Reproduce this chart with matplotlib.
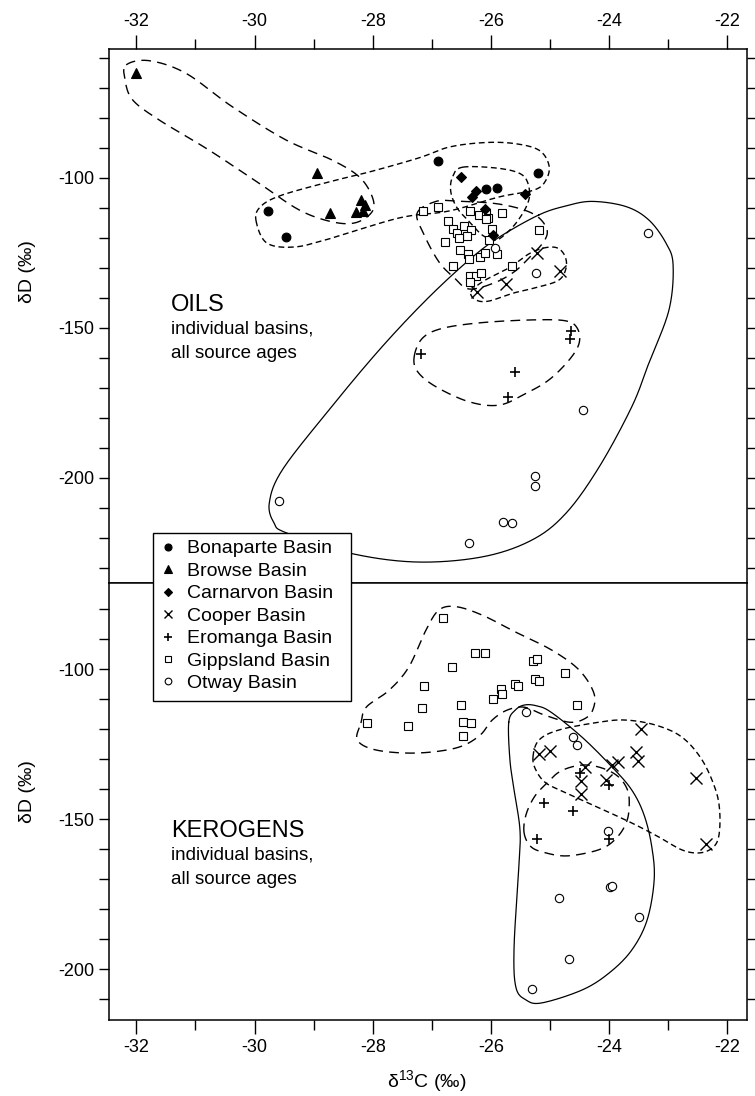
import numpy as np
import matplotlib
matplotlib.use("Agg")
import matplotlib.pyplot as plt
from matplotlib.ticker import MultipleLocator, FixedLocator
from matplotlib.lines import Line2D
from matplotlib.patches import Rectangle

plt.rcParams['font.family'] = ['Liberation Sans', 'DejaVu Sans']
plt.rcParams['mathtext.fontset'] = 'custom'
plt.rcParams['mathtext.rm'] = 'Liberation Sans'

# ---------------- OILS: d13C (permil), dD (permil) ----------------
oil_bonaparte_c = [-29.77, -29.47, -26.90, -26.08, -25.90, -25.21]
oil_bonaparte_d = [-111.2, -119.9, -94.3, -103.8, -103.6, -98.5]

oil_browse_c = [-32.00, -28.95, -28.72, -28.20, -28.13, -28.28, -28.16]
oil_browse_d = [-65.2, -98.5, -111.7, -107.4, -109.1, -111.3, -111.0]

oil_carnarvon_c = [-26.51, -26.26, -26.32, -25.42, -26.11, -25.96]
oil_carnarvon_d = [-99.7, -104.5, -106.3, -105.3, -110.3, -119.1]

oil_cooper_c = [-25.23, -24.83, -25.75, -26.24]
oil_cooper_d = [-125.2, -131.1, -135.4, -138.1]

oil_eromanga_c = [-24.64, -24.67, -27.18, -25.60, -25.71]
oil_eromanga_d = [-151.0, -153.9, -158.8, -164.8, -173.0]

oil_gippsland_c = [-27.15, -26.90, -26.35, -26.20, -26.08, -26.05, -26.08, -25.82,
                   -26.73, -26.64, -26.57, -26.45, -26.33, -26.41, -26.54, -26.78,
                   -25.98, -26.04, -26.53, -26.39, -26.37, -26.19, -26.10, -25.90,
                   -26.64, -26.35, -26.25, -26.17, -26.35, -25.64, -25.18]
oil_gippsland_d = [-111.1, -109.7, -111.1, -112.5, -111.9, -113.3, -113.8, -111.9,
                   -114.4, -117.2, -118.3, -116.1, -117.4, -119.4, -120.2, -121.4,
                   -117.0, -120.9, -124.1, -125.5, -127.2, -126.4, -125.2, -125.4,
                   -129.3, -132.8, -132.8, -131.9, -134.7, -129.4, -117.4]

oil_otway_c = [-25.93, -25.24, -23.35, -24.44, -25.26, -25.26, -25.80, -25.64, -26.37, -29.58]
oil_otway_d = [-123.3, -131.9, -118.5, -177.4, -199.3, -202.7, -214.7, -215.2, -221.9, -207.7]

# ---------------- KEROGENS ----------------
ker_cooper_c = [-23.47, -25.19, -25.01, -23.54, -23.51, -23.86, -23.95, -24.41,
                -24.05, -24.47, -24.47, -22.53, -22.37]
ker_cooper_d = [-120.0, -128.2, -127.1, -127.7, -130.6, -130.8, -131.9, -132.7,
                -136.9, -137.2, -141.6, -136.1, -158.2]

ker_eromanga_c = [-24.50, -24.00, -25.10, -24.61, -25.23, -24.00]
ker_eromanga_d = [-134.5, -138.6, -144.5, -147.2, -156.6, -156.6]

ker_gippsland_c = [-26.81, -26.27, -26.11, -26.66, -25.29, -25.23, -27.13, -25.26,
                   -25.19, -24.75, -25.60, -25.54, -25.83, -25.82, -25.96, -26.51,
                   -27.17, -24.54, -28.09, -27.41, -26.47, -26.34, -26.47]
ker_gippsland_d = [-82.8, -94.5, -94.5, -99.3, -97.2, -96.7, -105.5, -103.3,
                   -103.8, -101.3, -104.9, -105.5, -106.7, -108.1, -110.0, -111.9,
                   -113.0, -111.9, -118.0, -118.8, -117.5, -118.0, -122.2]

ker_otway_c = [-25.41, -24.62, -24.55, -24.02, -23.99, -23.96, -24.85, -23.50, -24.68, -25.30]
ker_otway_d = [-114.2, -122.5, -125.3, -153.9, -172.5, -172.1, -176.2, -182.7, -196.5, -206.5]

# ---------------- basin envelopes (d13C, dD) ----------------
env_oil_browse_c = [-32.17, -31.78, -31.16, -30.38, -29.47, -28.69, -28.23, -28.01, -28.01,
                    -28.29, -28.69, -29.24, -29.92, -30.77, -31.61, -32.06, -32.19]
env_oil_browse_d = [-62.4, -61.0, -65.2, -76.3, -87.4, -94.1, -99.7, -106.3, -111.3,
                    -115.0, -114.7, -110.8, -101.9, -90.8, -80.8, -74.1, -67.4]

env_oil_bonaparte_c = [-29.97, -29.92, -29.58, -28.74, -28.06, -27.22, -26.71, -26.12, -25.61,
                       -25.19, -25.02, -25.07, -25.27, -25.86, -26.71, -27.55, -28.74, -29.33, -29.79]
env_oil_bonaparte_d = [-114.8, -110.1, -106.1, -101.4, -98.1, -93.4, -89.8, -88.3, -88.6,
                       -90.8, -95.8, -100.8, -104.1, -106.4, -111.1, -113.4, -120.4, -123.1, -121.8]

env_oil_carnarvon_c = [-26.48, -25.86, -25.47, -25.35, -25.39, -25.58, -25.81, -25.95,
                       -26.15, -26.34, -26.57, -26.68, -26.65]
env_oil_carnarvon_d = [-96.5, -96.9, -99.1, -104.1, -109.1, -115.2, -119.7, -120.8,
                       -119.1, -115.2, -110.2, -104.7, -99.7]

env_oil_gippsland_c = [-27.25, -26.93, -26.59, -25.86, -25.31, -25.07, -25.09, -25.36,
                       -25.61, -25.95, -26.37, -26.62, -26.88, -27.13]
env_oil_gippsland_d = [-111.8, -107.9, -107.8, -108.8, -111.8, -116.4, -120.8, -126.8,
                       -131.4, -135.1, -137.1, -133.4, -128.1, -119.1]

env_oil_cooper_c = [-26.34, -26.12, -25.70, -25.36, -25.10, -24.88, -24.75, -24.73,
                    -24.85, -25.19, -25.61, -26.03, -26.25]
env_oil_cooper_d = [-138.1, -134.4, -130.1, -125.4, -123.4, -123.4, -126.1, -130.1,
                    -134.1, -136.4, -138.4, -141.1, -140.8]

env_oil_eromanga_c = [-27.30, -27.16, -26.82, -26.15, -25.30, -24.74, -24.54, -24.51,
                      -24.68, -25.02, -25.41, -25.86, -26.37, -26.93, -27.24]
env_oil_eromanga_d = [-159.7, -153.5, -150.2, -148.3, -147.4, -147.7, -150.2, -155.2,
                      -160.8, -167.4, -171.9, -175.8, -174.7, -169.7, -164.7]

env_oil_otway_c = [-25.19, -24.73, -24.29, -23.72, -23.33, -23.04, -22.92, -22.99, -23.33,
                   -23.62, -24.17, -24.73, -25.31, -26.15, -27.27, -28.40, -29.46, -29.67,
                   -29.75, -29.53, -28.74, -27.89, -27.10, -26.37, -25.86]
env_oil_otway_d = [-112.4, -109.4, -107.9, -109.6, -114.1, -121.8, -129.1, -144.1, -161.8,
                   -176.4, -196.4, -211.8, -220.8, -226.4, -228.1, -225.1, -218.4, -215.1,
                   -208.4, -197.4, -177.4, -157.4, -140.8, -127.4, -119.8]

env_ker_gippsland_c = [-28.20, -28.11, -27.72, -27.39, -27.10, -26.88, -26.59, -26.15, -25.58,
                       -24.97, -24.51, -24.26, -24.28, -24.43, -24.68, -25.10, -25.44, -25.73,
                       -25.98, -26.20, -26.59, -27.27, -27.94, -28.26]
env_ker_gippsland_d = [-117.9, -112.6, -106.9, -99.2, -86.9, -80.2, -79.1, -81.9, -87.6,
                       -93.6, -100.2, -107.9, -113.6, -116.6, -117.6, -115.2, -112.6, -113.6,
                       -116.9, -122.2, -126.2, -127.9, -126.9, -123.6]

env_ker_otway_c = [-25.70, -25.59, -25.44, -25.24, -24.99, -24.46, -23.95, -23.62, -23.41,
                   -23.28, -23.24, -23.36, -23.62, -24.00, -24.46, -25.14, -25.41, -25.58,
                   -25.61, -25.53, -25.51, -25.61, -25.68]
env_ker_otway_d = [-117.6, -113.6, -111.9, -112.1, -114.2, -122.6, -132.6, -140.2, -148.6,
                   -159.2, -170.2, -183.6, -193.6, -201.2, -206.9, -211.2, -210.2, -205.9,
                   -192.6, -165.9, -153.6, -140.2, -130.2]

env_ker_cooper_c = [-25.29, -25.19, -24.85, -24.17, -23.72, -23.21, -22.77, -22.43, -22.20,
                    -22.13, -22.15, -22.26, -22.48, -22.77, -23.16, -23.62, -24.17, -24.73,
                    -25.07, -25.24]
env_ker_cooper_d = [-129.2, -123.6, -120.2, -117.6, -116.9, -118.6, -122.6, -130.2, -140.2,
                    -147.9, -155.9, -159.6, -161.2, -160.2, -155.9, -151.2, -146.2, -141.2,
                    -137.9, -133.6]

env_ker_eromanga_c = [-25.44, -25.41, -25.27, -25.07, -24.82, -24.46, -24.12, -23.84, -23.68,
                      -23.67, -23.73, -23.85, -24.04, -24.31, -24.73, -25.07, -25.32]
env_ker_eromanga_d = [-154.6, -148.6, -142.6, -138.2, -133.9, -131.9, -132.9, -135.9, -140.9,
                      -147.6, -151.9, -155.6, -158.9, -160.9, -162.2, -161.2, -159.2]

basin_names = ["Bonaparte Basin", "Browse Basin", "Carnarvon Basin", "Cooper Basin",
               "Eromanga Basin", "Gippsland Basin", "Otway Basin"]

x_ticks = [-32, -30, -28, -26, -24, -22]
y_ticks = [-100, -150, -200]


def closed_spline(xs, ys, n=24):
    """Smooth closed curve through the given vertices (periodic Catmull-Rom)."""
    p = np.column_stack([xs, ys]).astype(float)
    m = len(p)
    t = np.linspace(0, 1, n, endpoint=False)[:, None]
    segs = []
    for i in range(m):
        p0, p1, p2, p3 = p[(i - 1) % m], p[i], p[(i + 1) % m], p[(i + 2) % m]
        segs.append(0.5 * (2 * p1 + (-p0 + p2) * t
                           + (2 * p0 - 5 * p1 + 4 * p2 - p3) * t ** 2
                           + (-p0 + 3 * p1 - 3 * p2 + p3) * t ** 3))
    segs.append(p[:1])
    out = np.vstack(segs)
    return out[:, 0], out[:, 1]


LONG = (7.0, 4.5)
SHORT = (4.2, 2.6)


def envelope(ax, xs, ys, style):
    sx, sy = closed_spline(xs, ys)
    if style == 'solid':
        ax.plot(sx, sy, color='black', lw=0.9, zorder=2)
    else:
        ax.plot(sx, sy, color='black', lw=1.0, dashes=style, zorder=2)


styles = {
    'Bonaparte': dict(marker='o', ms=6.3, mfc='black', mec='black', mew=0.8),
    'Browse': dict(marker='^', ms=7, mfc='black', mec='black', mew=0.8),
    'Carnarvon': dict(marker='D', ms=5, mfc='black', mec='black', mew=0.8),
    'Cooper': dict(marker='x', ms=8, mfc='none', mec='black', mew=1.0),
    'Eromanga': dict(marker='+', ms=7, mfc='none', mec='black', mew=1.2),
    'Gippsland': dict(marker='s', ms=6, mfc='white', mec='black', mew=0.8),
    'Otway': dict(marker='o', ms=6, mfc='white', mec='black', mew=0.8),
}

W, H = 755, 1096
fig = plt.figure(figsize=(W / 100, H / 100), dpi=100)

left_px, right_px = 108.5, 747.0
top_px, mid_px, bot_px = 49.3, 583.3, 1020.0
ax_l = left_px / W
ax_w = (right_px - left_px) / W
ax_top = fig.add_axes([ax_l, 1 - mid_px / H, ax_w, (mid_px - top_px) / H])
ax_bot = fig.add_axes([ax_l, 1 - bot_px / H, ax_w, (bot_px - mid_px) / H])

xlim = (-32.47, -21.67)
ax_top.set_xlim(*xlim)
ax_bot.set_xlim(*xlim)
ax_top.set_ylim(-235.2, -57.2)
ax_bot.set_ylim(-216.9, -71.3)

# oil envelopes
envelope(ax_top, env_oil_browse_c, env_oil_browse_d, LONG)
envelope(ax_top, env_oil_bonaparte_c, env_oil_bonaparte_d, SHORT)
envelope(ax_top, env_oil_carnarvon_c, env_oil_carnarvon_d, SHORT)
envelope(ax_top, env_oil_gippsland_c, env_oil_gippsland_d, LONG)
envelope(ax_top, env_oil_cooper_c, env_oil_cooper_d, SHORT)
envelope(ax_top, env_oil_eromanga_c, env_oil_eromanga_d, LONG)
envelope(ax_top, env_oil_otway_c, env_oil_otway_d, 'solid')

# kerogen envelopes
envelope(ax_bot, env_ker_gippsland_c, env_ker_gippsland_d, LONG)
envelope(ax_bot, env_ker_otway_c, env_ker_otway_d, 'solid')
envelope(ax_bot, env_ker_cooper_c, env_ker_cooper_d, SHORT)
envelope(ax_bot, env_ker_eromanga_c, env_ker_eromanga_d, LONG)

# oil samples
for c, d, k in [(oil_gippsland_c, oil_gippsland_d, 'Gippsland'),
                (oil_otway_c, oil_otway_d, 'Otway'),
                (oil_cooper_c, oil_cooper_d, 'Cooper'),
                (oil_eromanga_c, oil_eromanga_d, 'Eromanga'),
                (oil_bonaparte_c, oil_bonaparte_d, 'Bonaparte'),
                (oil_browse_c, oil_browse_d, 'Browse'),
                (oil_carnarvon_c, oil_carnarvon_d, 'Carnarvon')]:
    ax_top.plot(c, d, ls='none', zorder=3, **styles[k])

# kerogen samples
for c, d, k in [(ker_gippsland_c, ker_gippsland_d, 'Gippsland'),
                (ker_otway_c, ker_otway_d, 'Otway'),
                (ker_cooper_c, ker_cooper_d, 'Cooper'),
                (ker_eromanga_c, ker_eromanga_d, 'Eromanga')]:
    ax_bot.plot(c, d, ls='none', zorder=3, **styles[k])

# axes styling
for ax in (ax_top, ax_bot):
    for s in ax.spines.values():
        s.set_linewidth(1.1)
    ax.xaxis.set_major_locator(FixedLocator(x_ticks))
    ax.xaxis.set_minor_locator(MultipleLocator(1))
    ax.yaxis.set_major_locator(FixedLocator(y_ticks))
    ax.yaxis.set_minor_locator(MultipleLocator(10))
    ax.tick_params(axis='x', which='major', length=10, width=1.0, labelsize=13, pad=4)
    ax.tick_params(axis='x', which='minor', length=7, width=1.0)
    ax.tick_params(axis='y', which='both', length=7, width=1.0, labelsize=13, pad=3,
                   left=True, right=True, direction='out')

ax_top.tick_params(axis='x', which='both', direction='out', top=True, bottom=False,
                   labeltop=True, labelbottom=False)
ax_bot.tick_params(axis='x', which='both', direction='out', top=False, bottom=True,
                   labeltop=False, labelbottom=True)
ax_top.set_xticklabels([str(v) for v in x_ticks])
ax_bot.set_xticklabels([str(v) for v in x_ticks])
ax_top.set_yticklabels([str(v) for v in y_ticks])
ax_bot.set_yticklabels([str(v) for v in y_ticks])

# axis titles
fig.text(28 / W, 1 - 272 / H, "δD (‰)", rotation=90, ha='center', va='center', fontsize=14)
fig.text(28 / W, 1 - 792 / H, "δD (‰)", rotation=90, ha='center', va='center', fontsize=14)
fig.text(427 / W, 1 - 1082 / H, r"δ$^{\mathregular{13}}$C (‰)", ha='center', va='center', fontsize=14)


# panel captions: heading plus two lines, each centred on a pixel row
def caption(heading, rows_px):
    x = 171 / W
    fig.text(x, 1 - rows_px[0] / H, heading, fontsize=17, ha='left', va='center')
    fig.text(x, 1 - rows_px[1] / H, "individual basins,", fontsize=13.5, ha='left', va='center')
    fig.text(x, 1 - rows_px[2] / H, "all source ages", fontsize=13.5, ha='left', va='center')


caption("OILS", (305, 329, 353))
caption("KEROGENS", (831, 855, 879))

# legend: white box over the panel divider, entries inside it
box_l, box_t, box_r, box_b = 153, 533, 351, 701
fig.patches.append(Rectangle((box_l / W, 1 - box_b / H), (box_r - box_l) / W, (box_b - box_t) / H,
                             transform=fig.transFigure, facecolor='white', edgecolor='black',
                             linewidth=1.0, zorder=4))
handles = []
for name in basin_names:
    st = dict(styles[name.split()[0]])
    st['ms'] = st['ms'] * 0.8
    handles.append(Line2D([], [], ls='none', **st))
leg = fig.legend(handles, basin_names, loc='upper left',
                 bbox_to_anchor=(box_l / W, 1 - box_t / H), borderaxespad=0,
                 frameon=False, fontsize=14, handlelength=0.8, handletextpad=0.6,
                 labelspacing=0.25, borderpad=0.35)
leg.set_zorder(5)

fig.savefig("out.png", dpi=100)
